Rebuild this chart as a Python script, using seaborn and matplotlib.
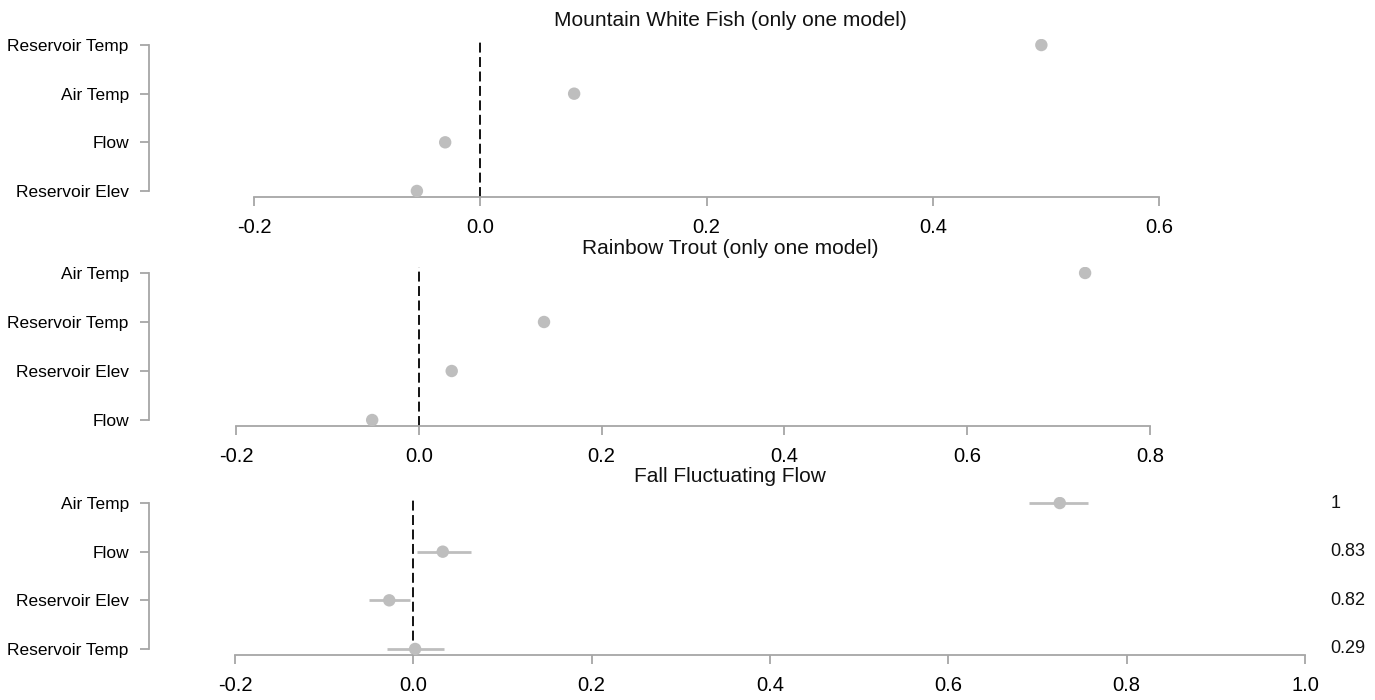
import matplotlib
matplotlib.use("Agg")
import matplotlib.pyplot as plt
import numpy as np
import pandas as pd
import seaborn as sns

sns.set_theme(style="white")
plt.rcParams["font.family"] = ["Liberation Sans Narrow", "Liberation Sans", "DejaVu Sans"]

# ---- data -------------------------------------------------------------
whitefish_title = "Mountain White Fish (only one model)"
whitefish_vars = ["Reservoir Temp", "Air Temp", "Flow", "Reservoir Elev"]
whitefish_est = [0.496, 0.083, -0.031, -0.056]
whitefish_ticks = [-0.2, 0.0, 0.2, 0.4, 0.6]

trout_title = "Rainbow Trout (only one model)"
trout_vars = ["Air Temp", "Reservoir Temp", "Reservoir Elev", "Flow"]
trout_est = [0.729, 0.137, 0.036, -0.051]
trout_ticks = [-0.2, 0.0, 0.2, 0.4, 0.6, 0.8]

fff_title = "Fall Fluctuating Flow"
fff_vars = ["Air Temp", "Flow", "Reservoir Elev", "Reservoir Temp"]
fff_est = [0.725, 0.033, -0.027, 0.002]
fff_lo = [0.690, 0.004, -0.050, -0.029]
fff_hi = [0.757, 0.065, -0.004, 0.034]
fff_weight = ["1", "0.83", "0.82", "0.29"]
fff_ticks = [-0.2, 0.0, 0.2, 0.4, 0.6, 0.8, 1.0]

# ---- layout (pixels) -------------------------------------------------
W, H = 1375, 700
fig = plt.figure(figsize=(W / 100, H / 100), dpi=100)

POINT = "#bebebe"
AXIS = "#a6a6a6"

panels = [
    # title, vars, est, lo, hi, labels, ticks, top px, bottom px, px of first/last tick, title px
    (whitefish_title, whitefish_vars, whitefish_est, None, None, None, whitefish_ticks, 39.2, 196.8, 254, 1159, 20),
    (trout_title, trout_vars, trout_est, None, None, None, trout_ticks, 267.1, 425.9, 236, 1150, 248),
    (fff_title, fff_vars, fff_est, fff_lo, fff_hi, fff_weight, fff_ticks, 497.2, 654.8, 235, 1305, 476),
]

LEFT_PX, RIGHT_PX = 149, 1322

for (title, names, est, lo, hi, wts, ticks, top, bot, t0px, t1px, title_y) in panels:
    ax = fig.add_axes([LEFT_PX / W, 1 - bot / H, (RIGHT_PX - LEFT_PX) / W, (bot - top) / H])
    n = len(names)
    ypos = np.arange(n)[::-1]  # first variable at the top
    df = pd.DataFrame({"var": names, "est": est, "y": ypos})

    scale = (t1px - t0px) / (ticks[-1] - ticks[0])
    xl = ticks[0] - (t0px - LEFT_PX) / scale
    xr = ticks[-1] + (RIGHT_PX - t1px) / scale

    ax.axvline(0, color="black", lw=1.3, ls=(0, (5.5, 2.5)), zorder=1)
    if lo is not None:
        ax.hlines(df["y"], lo, hi, color=POINT, lw=2, zorder=2)
    sns.scatterplot(data=df, x="est", y="y", ax=ax, color=POINT, s=80,
                    edgecolor="none", zorder=3, legend=False)

    ax.set_xlim(xl, xr)
    ax.set_ylim(-0.12, n - 1 + 0.12)
    ax.set_xticks(ticks)
    ax.set_xticklabels([f"{t:.1f}" for t in ticks], fontsize=14.5)
    ax.set_yticks(ypos)
    ax.set_yticklabels(names, fontsize=12.5)
    ax.set_xlabel("")
    ax.set_ylabel("")

    for side in ("top", "right"):
        ax.spines[side].set_visible(False)
    for side in ("left", "bottom"):
        ax.spines[side].set_color(AXIS)
        ax.spines[side].set_linewidth(1.3)
    ax.spines["left"].set_bounds(0, n - 1)
    ax.spines["bottom"].set_bounds(ticks[0], ticks[-1])
    ax.tick_params(axis="both", which="both", direction="out", color=AXIS,
                   width=1.3, length=6.5, labelcolor="black",
                   left=True, bottom=True)
    ax.tick_params(axis="y", pad=8)
    ax.tick_params(axis="x", pad=9)
    ax.grid(False)

    if wts is not None:
        for yy, w in zip(ypos, wts):
            ax.annotate(w, xy=(1.0, yy), xycoords=("axes fraction", "data"),
                        xytext=(6, 0), textcoords="offset points",
                        ha="left", va="center", fontsize=13, color="#111111")

    fig.text(730 / W, 1 - title_y / H, title, ha="center", va="center",
             fontsize=15, color="#111111")

fig.savefig("out.png", dpi=100, facecolor="white")
